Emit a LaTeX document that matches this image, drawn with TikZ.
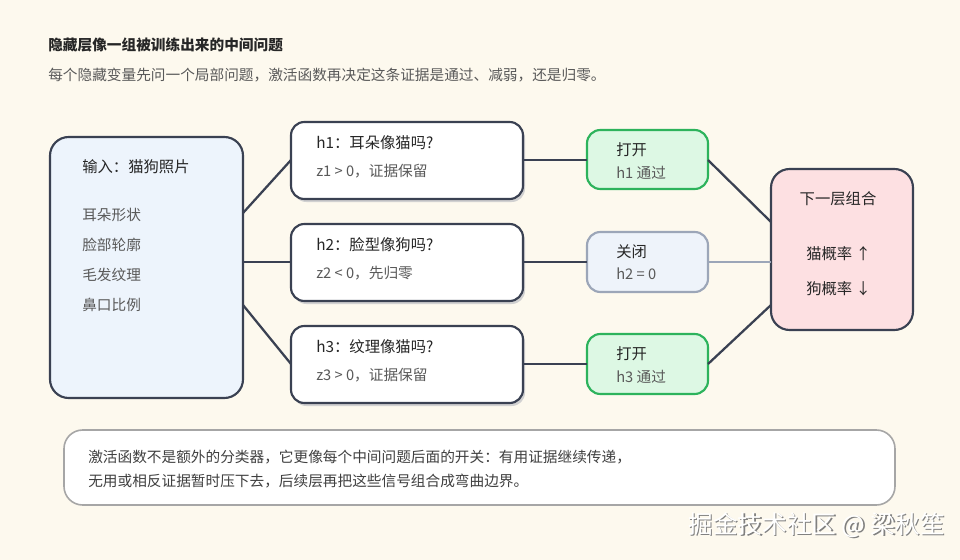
\documentclass[tikz,border=0pt]{standalone}
\usepackage{fontspec}
\setmainfont{Noto Sans CJK SC}
\begin{document}
\begin{tikzpicture}[x=0.75pt,y=-0.75pt,
 box/.style={draw=boxline,line width=1.6pt,rounded corners=10pt},
 lnk/.style={draw=boxline,line width=1.7pt},
 t/.style={anchor=west,inner sep=0pt,font=\fontsize{11.5}{13}\selectfont,text=black!85},
 s/.style={anchor=west,inner sep=0pt,font=\fontsize{11}{13}\selectfont,text=black!65}]
\definecolor{bg}{HTML}{FDF9EE}
\definecolor{boxline}{HTML}{3A4152}
\definecolor{inblue}{HTML}{EDF4FC}
\definecolor{gfill}{HTML}{DDF8E4}
\definecolor{gline}{HTML}{2DB35C}
\definecolor{cfill}{HTML}{EEF3FA}
\definecolor{cline}{HTML}{9CA6B8}
\definecolor{pfill}{HTML}{FDE0E2}
\fill[bg] (0,0) rectangle (960,560);
\useasboundingbox (0,0) rectangle (960,560);
\node[t,font=\fontsize{11}{13}\selectfont\bfseries] (title) at (48,45) {隐藏层像一组被训练出来的中间问题};
\node[s] (sub) at (48,75) {每个隐藏变量先问一个局部问题，激活函数再决定这条证据是通过、减弱，还是归零。};
% input
\draw[box,fill=inblue,rounded corners=14pt] (50,137) rectangle (243,398);
\node[t] (inp) at (82,167) {输入：猫狗照片};
\node[s] (f1) at (82,215) {耳朵形状};
\node[s] (f2) at (82,245) {脸部轮廓};
\node[s] (f3) at (82,275) {毛发纹理};
\node[s] (f4) at (82,305) {鼻口比例};
\coordinate (ia) at (243,213); \coordinate (ib) at (243,262); \coordinate (ic) at (243,305);
% hidden boxes
\foreach \n/\y/\a/\b in {1/122/h1：耳朵像猫吗?/{z1 > 0，证据保留},2/224/h2：脸型像狗吗?/{z2 < 0，先归零},3/326/h3：纹理像猫吗?/{z3 > 0，证据保留}}{
 \fill[black!18,rounded corners=10pt] (293,{\y+3}) rectangle (525,{\y+80});
 \draw[box,fill=white] (291,\y) rectangle (523,{\y+77});
 \node[t] (ht\n) at (316,{\y+21}) {\a};
 \node[s] (hs\n) at (316,{\y+49}) {\b};
 \coordinate (hl\n) at (291,{\y+38});
 \coordinate (hr\n) at (523,{\y+38});
}
% gates
\draw[box,fill=gfill,draw=gline] (587,130) rectangle (708,189);
\draw[box,fill=cfill,draw=cline] (587,232) rectangle (708,292);
\draw[box,fill=gfill,draw=gline] (587,334) rectangle (708,394);
\node[t] (g1a) at (616,150) {打开}; \node[s] (g1b) at (616,173) {h1 通过};
\node[t] (g2a) at (616,252) {关闭}; \node[s] (g2b) at (616,274) {h2 = 0};
\node[t] (g3a) at (616,354) {打开}; \node[s] (g3b) at (616,377) {h3 通过};
\coordinate (g1l) at (587,160); \coordinate (g1r) at (708,160);
\coordinate (g2l) at (587,262); \coordinate (g2r) at (708,262);
\coordinate (g3l) at (587,364); \coordinate (g3r) at (708,364);
% output
\draw[box,fill=pfill,rounded corners=14pt] (771,169) rectangle (913,330);
\node[t,anchor=center] (o1) at (838,199) {下一层组合};
\node[t] (o2) at (806,254) {猫概率 ↑};
\node[t] (o3) at (806,289) {狗概率 ↓};
\coordinate (oa) at (771,222); \coordinate (ob) at (771,262); \coordinate (oc) at (771,305);
% links
\draw[lnk] (ia) -- (hl1); \draw[lnk] (ib) -- (hl2); \draw[lnk] (ic) -- (hl3);
\draw[lnk] (hr1) -- (g1l); \draw[lnk] (hr2) -- (g2l); \draw[lnk] (hr3) -- (g3l);
\draw[lnk] (g1r) -- (oa); \draw[lnk,draw=cline] (g2r) -- (ob); \draw[lnk] (g3r) -- (oc);
% note
\draw[box,fill=white,draw=black!35,line width=1.2pt,rounded corners=14pt] (64,430) rectangle (895,505);
\node[s,text=black!75] (n1) at (88,457) {激活函数不是额外的分类器，它更像每个中间问题后面的开关：有用证据继续传递，};
\node[s,text=black!75] (n2) at (88,481) {无用或相反证据暂时压下去，后续层再把这些信号组合成弯曲边界。};
% watermark
\node[anchor=east,inner sep=0pt,font=\fontsize{18.5}{20}\selectfont,text=black!50] at (946.5,526.5) {掘金技术社区 @ 梁秋笙};
\node[anchor=east,inner sep=0pt,font=\fontsize{18.5}{20}\selectfont,text=white] (wm) at (945,525) {掘金技术社区 @ 梁秋笙};
\end{tikzpicture}
\end{document}
